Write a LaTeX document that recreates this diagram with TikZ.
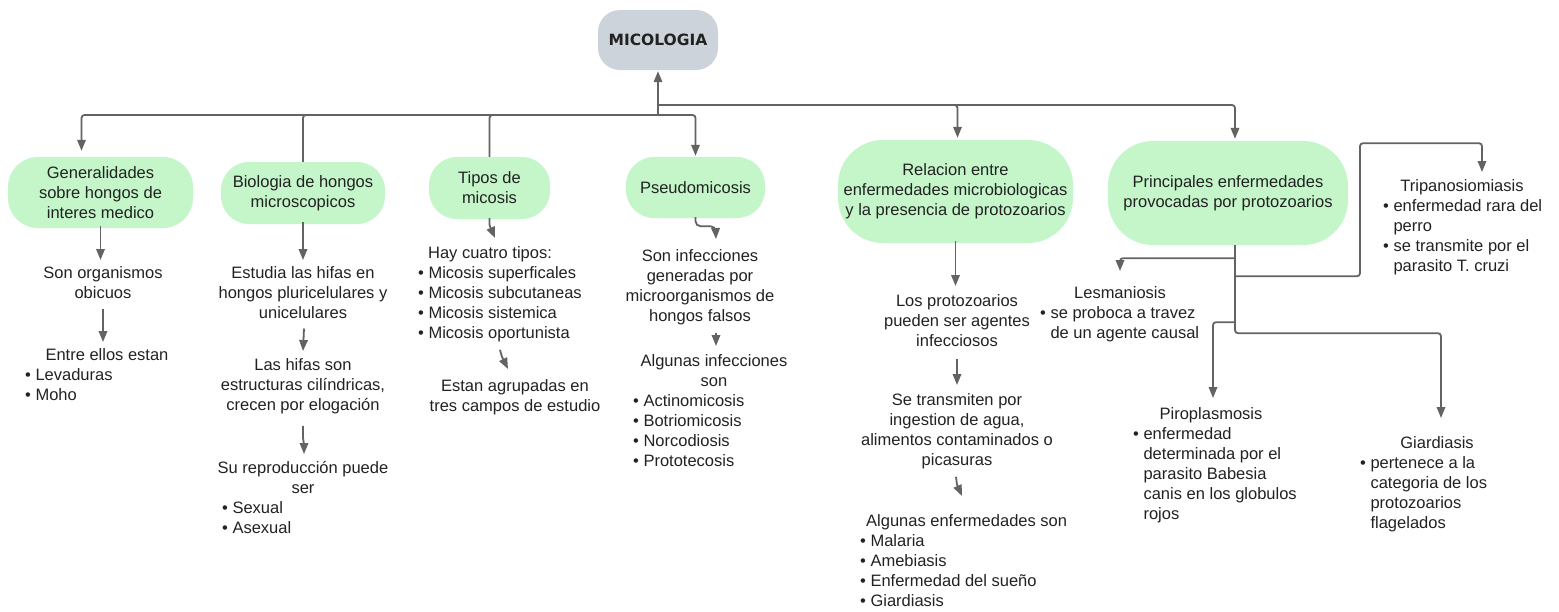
\documentclass[tikz,border=0pt]{standalone}
\usepackage{fontspec}
\setmainfont{Liberation Sans}
\newfontfamily\micfont{DejaVu Sans}
\usetikzlibrary{arrows.meta,calc}
\definecolor{boxgreen}{HTML}{C4F6CA}
\definecolor{boxgray}{HTML}{CDD3DB}
\definecolor{linegray}{HTML}{636363}
\definecolor{txtcol}{HTML}{222222}
\newcommand\tfont{\fontsize{16.5}{20}\selectfont}
\newcommand\bl{\textbullet\ }
\newcommand\hg{\phantom{\textbullet\ }}
\tikzset{
 conn/.style={draw=linegray,line width=1.8pt,rounded corners=3pt},
 arr/.style={-{Triangle[length=11pt,width=8.5pt]}},
 topicbox/.style={fill=boxgreen,draw=none,rounded corners=#1,align=center,font=\tfont,inner sep=0pt,text=txtcol},
 topicbox/.default=28pt,
 txt/.style={inner sep=0pt,align=center,font=\tfont,anchor=north,text=txtcol},
 lst/.style={inner sep=0pt,align=left,font=\tfont,anchor=north west,text=txtcol},
}
\begin{document}
\begin{tikzpicture}[x=1pt,y=-1pt]
\useasboundingbox (0,0) rectangle (1559,611);
\fill[white] (0,0) rectangle (1559,611);

% main nodes
\node[fill=boxgray,rounded corners=22pt,minimum width=120pt,minimum height=60pt,inner sep=0pt,font=\micfont\bfseries\fontsize{15.5}{17}\selectfont,text=txtcol] (mic) at (658,40) {MICOLOGIA};
\node[topicbox=30pt,minimum width=185pt,minimum height=71pt] (gen) at (100.5,192.5) {Generalidades\\sobre hongos de\\interes medico};
\node[topicbox,minimum width=164pt,minimum height=62pt] (bio) at (303,193) {Biologia de hongos\\microscopicos};
\node[topicbox,minimum width=121pt,minimum height=62pt] (tip) at (489.5,188) {Tipos de\\micosis};
\node[topicbox,minimum width=139pt,minimum height=61pt] (pse) at (695.5,187.5) {Pseudomicosis};
\node[topicbox=45pt,minimum width=235pt,minimum height=103pt] (rel) at (955.5,191.5) {Relacion entre\\enfermedades microbiologicas\\y la presencia de protozoarios};
\node[topicbox=45pt,minimum width=240pt,minimum height=104pt] (pri) at (1228,193) {Principales enfermedades\\provocadas por protozoarios};

% column 1
\node[txt] (son1) at (103,266) {Son organismos\\obicuos};
\node[txt] (ent1) at (107,348) {Entre ellos estan};
\node[lst] (ent2) at (25,368) {\bl Levaduras\\\bl Moho};

% column 2
\node[txt] (bio1) at (303,266) {Estudia las hifas en\\hongos pluricelulares y\\unicelulares};
\node[txt] (bio2) at (303,358) {Las hifas son\\estructuras cilíndricas,\\crecen por elogación};
\node[txt] (bio3) at (303,461) {Su reproducción puede\\ser};
\node[lst] (bio4) at (222,501) {\bl Sexual\\\bl Asexual};

% column 3
\node[txt] (tip1) at (490,246) {Hay cuatro tipos:};
\node[lst] (tip2) at (418,266) {\bl Micosis superficales\\\bl Micosis subcutaneas\\\bl Micosis sistemica\\\bl Micosis oportunista};
\node[txt] (tip3) at (515,379) {Estan agrupadas en\\tres campos de estudio};

% column 4
\node[txt] (pse1) at (700,249) {Son infecciones\\generadas por\\microorganismos de\\hongos falsos};
\node[txt] (pse2) at (714,354) {Algunas infecciones\\son};
\node[lst] (pse3) at (633,394) {\bl Actinomicosis\\\bl Botriomicosis\\\bl Norcodiosis\\\bl Prototecosis};

% column 5
\node[txt] (rel1) at (957,294) {Los protozoarios\\pueden ser agentes\\infecciosos};
\node[txt] (rel2) at (957,393) {Se transmiten por\\ingestion de agua,\\alimentos contaminados o\\picasuras};
\node[lst] (rel3) at (866,514) {Algunas enfermedades son};
\node[lst] (rel4) at (860,534) {\bl Malaria\\\bl Amebiasis\\\bl Enfermedad del sueño\\\bl Giardiasis};

% column 6
\node[txt] (les1) at (1120,286) {Lesmaniosis};
\node[lst] (les2) at (1040,306) {\bl se proboca a travez\\\hg de un agente causal};
\node[txt] (tri1) at (1462,179) {Tripanosiomiasis};
\node[lst] (tri2) at (1383,199) {\bl enfermedad rara del\\\hg perro\\\bl se transmite por el\\\hg parasito T. cruzi};
\node[txt] (pir1) at (1211,407) {Piroplasmosis};
\node[lst] (pir2) at (1133,427) {\bl enfermedad\\\hg determinada por el\\\hg parasito Babesia\\\hg canis en los globulos\\\hg rojos};
\node[txt] (gia1) at (1437,436) {Giardiasis};
\node[lst] (gia2) at (1360,456) {\bl pertenece a la\\\hg categoria de los\\\hg protozoarios\\\hg flagelados};

% top connectors
\coordinate (jn) at (658,115);
\coordinate (jr) at (658,105);
\draw[conn] (bio.north) |- (jn);
\draw[conn] (tip.north) |- (jn);
\draw[conn,arr,shorten >=1pt] (jn) -- (mic.south);
\draw[conn,arr,shorten >=6pt] (jn) -| ([xshift=-19pt]gen.north);
\draw[conn,arr,shorten >=1pt] (jn) -| (pse.north);
\draw[conn,arr,shorten >=2pt] (jr) -| ([xshift=2pt]rel.north);
\draw[conn,arr,shorten >=2pt] (jr) -| ([xshift=7pt]pri.north);

% column connectors
\draw[conn,arr] ([yshift=2pt]gen.south) -- ($(gen.south |- son1.north)+(0,-6)$);
\draw[conn,arr] ($(son1.south)+(0,10)$) -- ($(son1.south |- ent1.north)+(0,-6)$);
\draw[conn,arr] ([yshift=2pt]bio.south) -- ($(bio.south |- bio1.north)+(0,-6)$);
\draw[conn,arr] ($(bio1.south)+(1,10)$) -- ($(bio1.south |- bio2.north)+(0,-7)$);
\draw[conn,arr,rounded corners=2pt] ($(bio2.south)+(0,12)$) -- ++(0,14) -- ++(1,3) -- ($(bio2.south |- bio3.north)+(1,-7)$);
\draw[conn,arr,rounded corners=1pt] ([yshift=1pt]tip.south) -- ++(0,7) -- ($(tip1.north)+(5,-8)$);
\draw[conn,arr,rounded corners=1pt] ($(tip2.south)+(0,8)$) -- ++(2,7) -- ($(tip3.north)+(-7,-10)$);
\draw[conn,arr,rounded corners=5pt] ([yshift=1pt]pse.south) -- ++(0,9) -- ++(20,0) -- ($(pse1.north)+(16,-10)$);
\draw[conn,arr] ($(pse1.south)+(16,8)$) -- ($(pse2.north)+(2,-8)$);
\draw[conn,arr] ([yshift=2pt]rel.south) -- ($(rel.south |- rel1.north)+(0,-8)$);
\draw[conn,arr] ($(rel1.south)+(0,12)$) -- ($(rel1.south |- rel2.north)+(0,-8)$);
\draw[conn,arr,rounded corners=1pt] ($(rel2.south)+(-1,8)$) -- ++(1,8) -- ($(rel3.north west)+(96,-18)$);

% principales connectors
\coordinate (ps) at ($(pri.south)+(7,0)$);
\coordinate (pe) at ($(ps)+(0,88)$);
\draw[conn,arr] ($(ps)+(0,13)$) -| ($(les1.north)+(0,-15)$);
\draw[conn,arr] ($(ps)+(0,31)$) -- ++(125,0) -- ++(0,-133) -| ($(tri1.north)+(20,-7)$);
\draw[conn,arr] ($(ps)+(0,77)$) -| ($(pir1.north)+(2,-9)$);
\draw[conn,arr] (ps) -- (pe) -| ($(gia1.north)+(4,-18)$);
\end{tikzpicture}
\end{document}
